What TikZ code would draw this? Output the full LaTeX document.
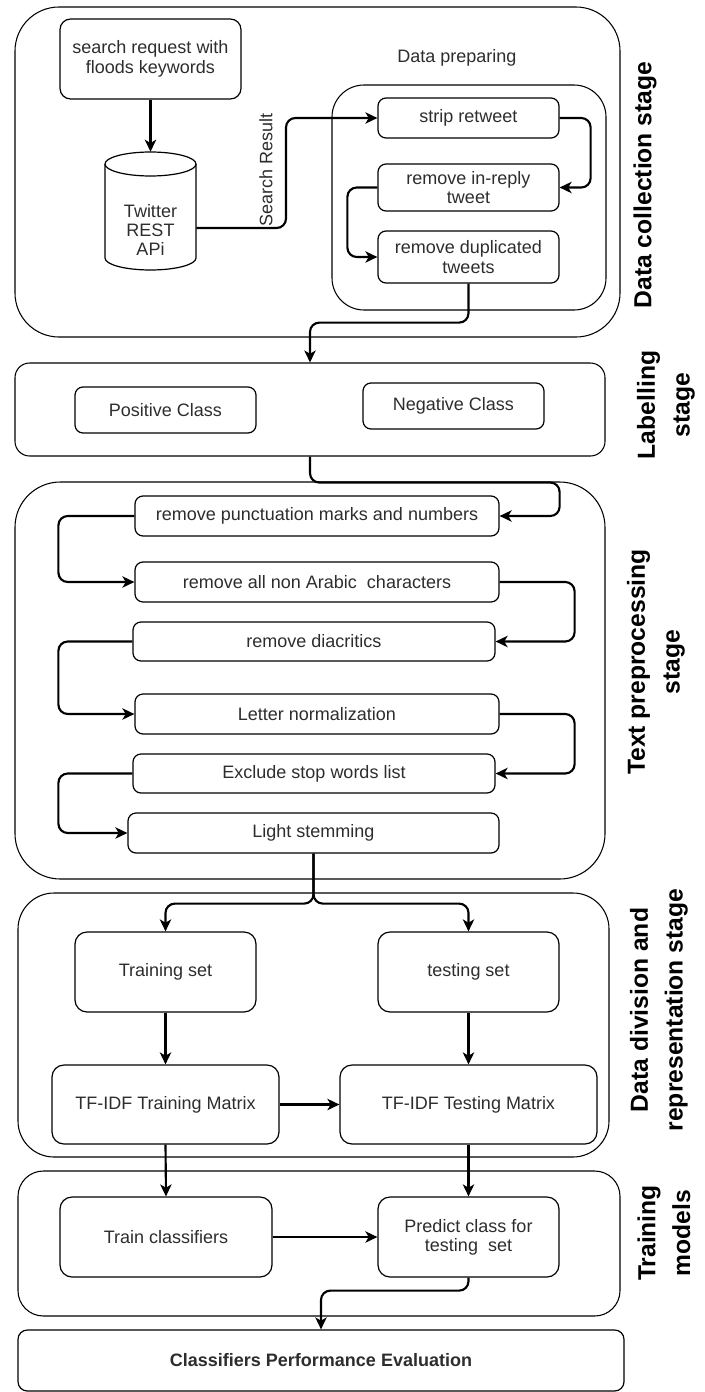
\documentclass[tikz,border=0pt]{standalone}
\usepackage{fontspec}
\setmainfont{Liberation Sans}
\usetikzlibrary{arrows.meta,calc}
\definecolor{txt}{RGB}{45,45,45}
\newcommand\nfs{\fontsize{13.5}{14.5}\selectfont}
\newcommand\lfs{\fontsize{18.5}{26}\selectfont\bfseries}
\begin{document}
\begin{tikzpicture}[x=0.75pt,y=-0.75pt,
  bx/.style n args={4}{at={({(#1+#3)/2},{(#2+#4)/2})}, minimum width={(#3-#1)*0.75pt}, minimum height={(#4-#2)*0.75pt}},
  box/.style={draw, rounded corners=6pt, line width=0.9pt, inner sep=0pt, align=center, font=\nfs, text=txt},
  stagebox/.style={draw, line width=0.8pt, inner sep=0pt},
  conn/.style={line width=1.6pt, rounded corners=7pt, -{Stealth[length=9pt,width=8.5pt,inset=2.5pt]}},
  lbl/.style={rotate=90, font=\lfs, align=center, inner sep=0pt}]
\useasboundingbox (0,0) rectangle (704,1392);

% stage containers
\node[stagebox, rounded corners=33pt, bx={15}{7}{620}{337}] (dc) {};
\node[stagebox, rounded corners=24pt, bx={332}{85}{606}{310}] (dp) {};
\node[stagebox, rounded corners=11pt, bx={15}{363}{605}{456}] (lab) {};
\node[stagebox, rounded corners=34pt, bx={15}{482}{605}{879}] (tp) {};
\node[stagebox, rounded corners=27pt, bx={18}{893}{609}{1157}] (dd) {};
\node[stagebox, rounded corners=19pt, bx={18}{1171}{620}{1316}] (tm) {};

% stage labels
\node[lbl] (ldc) at (645,185) {Data collection stage};
\node[lbl] (llab) at (666,405) {Labelling\\stage};
\node[lbl] (ltp) at (656,662) {Text preprocessing\\stage};
\node[lbl] (ldd) at (659,1010) {Data division and\\representation stage};
\node[lbl] (ltm) at (664,1233) {Training\\models};

% data collection
\node[box, rounded corners=8pt, bx={60}{19}{241}{99}] (search) {search request with\\floods keywords};
\node[inner sep=0pt, bx={105}{152}{196}{270}] (api) {};
\draw[line width=0.9pt] (150.5,164) ellipse [x radius=34.125pt, y radius=9pt];
\draw[line width=0.9pt] (105,164) -- (105,258) arc[start angle=180, end angle=360, x radius=34.125pt, y radius=9pt] -- (196,164);
\node[font=\nfs, text=txt, align=center] (apitext) at (150.5,230) {Twitter\\REST\\APi};
\node[font=\nfs, text=txt] (dptitle) at (457,58) {Data preparing};
\node[box, bx={378}{98}{559}{138}] (strip) {strip retweet};
\node[box, bx={378}{164}{559}{211}] (inreply) {remove in-reply\\tweet};
\node[box, bx={378}{231}{559}{283}] (dup) {remove duplicated\\tweets};

% labelling
\node[box, bx={75}{387}{256}{433}] (pos) {Positive Class};
\node[box, bx={363}{383}{544}{429}] (neg) {Negative Class};

% text preprocessing
\node[box, bx={135}{496}{499}{536}] (punct) {remove punctuation marks and numbers};
\node[box, bx={135}{562}{499}{602}] (nonar) {remove all non Arabic\ \ characters};
\node[box, bx={133}{622}{495}{661}] (diac) {remove diacritics};
\node[box, bx={135}{694}{499}{734}] (letter) {Letter normalization};
\node[box, bx={133}{754}{495}{793}] (excl) {Exclude stop words list};
\node[box, bx={128}{813}{499}{853}] (light) {Light stemming};

% data division
\node[box, rounded corners=9pt, bx={75}{932}{256}{1012}] (trainset) {Training set};
\node[box, rounded corners=9pt, bx={378}{932}{559}{1012}] (testset) {testing set};
\node[box, rounded corners=9pt, bx={52}{1065}{279}{1144}] (tftrain) {TF-IDF Training Matrix};
\node[box, rounded corners=9pt, bx={340}{1065}{597}{1144}] (tftest) {TF-IDF Testing Matrix};

% training models
\node[box, rounded corners=9pt, bx={60}{1197}{272}{1277}] (trainclf) {Train classifiers};
\node[box, rounded corners=9pt, bx={378}{1197}{559}{1277}] (predict) {Predict class for\\testing\ \ set};
\node[box, rounded corners=7pt, font=\nfs\bfseries, bx={18}{1330}{624}{1391}] (eval) {Classifiers Performance Evaluation};

% connectors
\draw[conn] (search) -- (api);
\draw[conn] ([yshift=-12.75pt]api.east) -| (286,118) -- (strip.west);
\node[rotate=90, font=\nfs, text=txt, inner sep=0pt] (srlabel) at (266,170) {Search Result};
\draw[conn] (strip.east) -| ([xshift=23.25pt]inreply.east) -- (inreply.east);
\draw[conn] (inreply.west) -| ([xshift=-22.5pt]dup.west) -- (dup.west);
\draw[conn] (dup.south) -- ++(0,39) -| (lab.north);
\draw[conn] (lab.south) -- ++(0,26) -| ([xshift=45pt]punct.east) -- (punct.east);
\draw[conn] (punct.west) -| ([xshift=-57pt]nonar.west) -- (nonar.west);
\draw[conn] (nonar.east) -| ([xshift=59.25pt]diac.east) -- (diac.east);
\draw[conn] (diac.west) -| ([xshift=-57pt]letter.west) -- (letter.west);
\draw[conn] (letter.east) -| ([xshift=59.25pt]excl.east) -- (excl.east);
\draw[conn] (excl.west) -| ([xshift=-51.75pt]light.west) -- (light.west);
\draw[conn] (light.south) -- ++(0,50) -| (trainset.north);
\draw[conn] (light.south) -- ++(0,50) -| (testset.north);
\draw[conn] (trainset) -- (tftrain);
\draw[conn] (testset) -- (tftest);
\draw[conn] (tftrain) -- (tftest);
\draw[conn] (tftrain.south) -- (trainclf.north);
\draw[conn] (tftest.south) -- (predict.north);
\draw[conn] (trainclf) -- (predict);
\draw[conn] (predict.south) -- ++(0,13) -| (eval.north);
\end{tikzpicture}
\end{document}
